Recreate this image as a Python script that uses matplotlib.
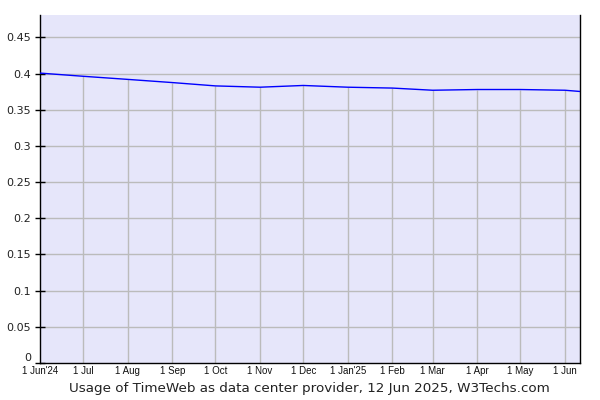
import matplotlib
matplotlib.use('Agg')
import matplotlib.pyplot as plt
from datetime import datetime

# monthly readings of the usage share (%)
dates = [datetime(2024, 6, 1), datetime(2024, 7, 1), datetime(2024, 8, 1), datetime(2024, 9, 1),
         datetime(2024, 10, 1), datetime(2024, 11, 1), datetime(2024, 12, 1), datetime(2025, 1, 1),
         datetime(2025, 2, 1), datetime(2025, 3, 1), datetime(2025, 4, 1), datetime(2025, 5, 1),
         datetime(2025, 6, 1), datetime(2025, 6, 12)]
values = [0.4007, 0.3963, 0.3920, 0.3876, 0.3830, 0.3812, 0.3836, 0.3812,
          0.3800, 0.3770, 0.3780, 0.3780, 0.3770, 0.3752]

tick_dates = dates[:13]
tick_labels = ["1 Jun'24", "1 Jul", "1 Aug", "1 Sep", "1 Oct", "1 Nov", "1 Dec",
               "1 Jan'25", "1 Feb", "1 Mar", "1 Apr", "1 May", "1 Jun"]
y_ticks = [0, 0.05, 0.1, 0.15, 0.2, 0.25, 0.3, 0.35, 0.4, 0.45]
y_labels = ["0", "0.05", "0.1", "0.15", "0.2", "0.25", "0.3", "0.35", "0.4", "0.45"]

fig = plt.figure(figsize=(6, 4), dpi=100)
ax = fig.add_axes([40 / 600, 37 / 400, 540 / 600, 348 / 400])
ax.set_facecolor('#e6e6fa')

ax.set_xlim(datetime(2024, 6, 1), datetime(2025, 6, 11, 10))
ax.set_ylim(0, 0.481)

# horizontal grid across the whole area
for y in y_ticks[1:]:
    ax.axhline(y, color='#bbbbbb', lw=1, zorder=1)
# vertical grid only under the line
ax.vlines(tick_dates[1:], 0, values[1:13], color='#bbbbbb', lw=1, zorder=1)

ax.plot(dates, values, color='#0000ff', lw=1, zorder=3)

ax.set_yticks(y_ticks)
ax.set_yticklabels(y_labels, fontsize=8, color='#222222')
ax.get_yticklabels()[0].set_va('bottom')
ax.set_xticks(tick_dates)
ax.set_xticklabels(tick_labels, fontsize=7, family='Liberation Sans', color='#111111')
ax.tick_params(axis='y', direction='inout', length=7, width=1, pad=3)
ax.tick_params(axis='x', length=0, pad=2)

ax.spines['top'].set_visible(False)
for s in ['left', 'right', 'bottom']:
    ax.spines[s].set_color('black')
    ax.spines[s].set_linewidth(1)

fig.text(0.515, 0.012, 'Usage of TimeWeb as data center provider, 12 Jun 2025, W3Techs.com',
         ha='center', va='bottom', fontsize=9.7, color='#222222')

fig.savefig('out.png', dpi=100)
